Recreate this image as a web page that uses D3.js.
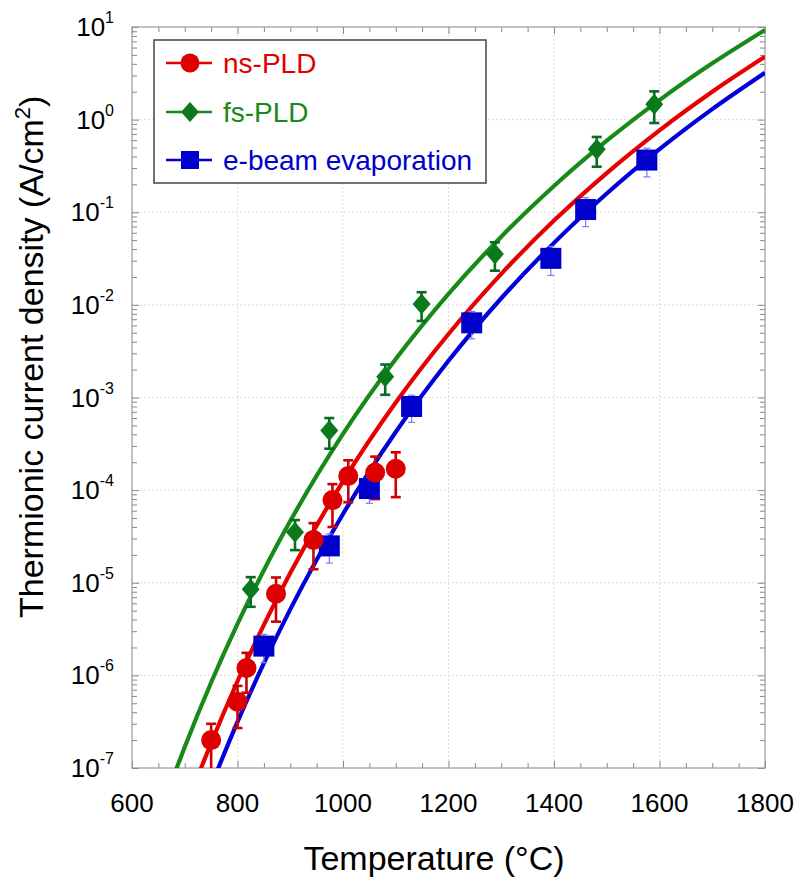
<!DOCTYPE html>
<html><head><meta charset="utf-8">
<script src="https://cdn.jsdelivr.net/npm/d3@7"></script>
<style>body{margin:0;background:#fff}svg{display:block;font-family:Arial,"Liberation Sans",sans-serif}</style>
</head><body><svg id="c" width="798" height="877"></svg>
<script>
// ---- measured data ----
const nsT   = [750, 800, 817, 873, 944, 980, 1010, 1061, 1100];
const nsJ   = [2.0e-7, 5.2e-7, 1.2e-6, 7.6e-6, 2.9e-5, 7.8e-5, 1.42e-4, 1.55e-4, 1.7e-4];
const nsErr = [1.0e-7, 2.5e-7, 5.5e-7, 3.8e-6, 1.5e-5, 3.8e-5, 6.8e-5, 7.5e-5, 8.6e-5];

const fsT   = [825, 909, 974, 1080, 1149, 1288, 1481, 1590];
const fsJ   = [8.5e-6, 3.5e-5, 4.4e-4, 1.67e-3, 1.02e-2, 0.0354, 0.48, 1.47];
const fsErr = [3.0e-6, 1.25e-5, 1.6e-4, 6e-4, 3.5e-3, 0.012, 0.17, 0.55];

const ebT   = [850, 974, 1050, 1130, 1244, 1394, 1460, 1576];
const ebJ   = [2.07e-6, 2.5e-5, 1.04e-4, 8.0e-4, 6.4e-3, 0.0318, 0.107, 0.366];
const ebErr = [7e-7, 8.7e-6, 3.2e-5, 2.6e-4, 2.1e-3, 0.011, 0.037, 0.125];

// ---- fitted curves ----
const fitGreenT = [680, 700, 750, 800, 850, 900, 1000, 1100, 1200, 1300, 1400, 1500, 1600, 1700, 1800];
const fitGreenJ = [8.5e-8, 1.69e-7, 8.38e-7, 3.60e-6, 1.365e-5, 4.63e-5, 4.04e-4, 2.60e-3, 0.01315, 0.0545, 0.1922, 0.592, 1.626, 4.05, 9.30];
const fitRedT   = [730, 750, 800, 850, 900, 1000, 1100, 1200, 1300, 1400, 1500, 1600, 1700, 1800];
const fitRedJ   = [9.7e-8, 1.86e-7, 8.64e-7, 3.51e-6, 1.272e-5, 1.243e-4, 8.82e-4, 4.85e-3, 0.02163, 0.0813, 0.265, 0.766, 2.00, 4.78];
const fitBlueT  = [760, 800, 850, 900, 1000, 1100, 1200, 1300, 1400, 1500, 1600, 1700, 1800];
const fitBlueJ  = [8.9e-8, 3.15e-7, 1.354e-6, 5.16e-6, 5.53e-5, 4.24e-4, 2.49e-3, 0.01179, 0.0467, 0.1593, 0.480, 1.299, 3.21];

const xTickLabels = [600, 800, 1000, 1200, 1400, 1600, 1800];
const yDecades = [-7, -6, -5, -4, -3, -2, -1, 0, 1];
const seriesNames = ["ns-PLD", "fs-PLD", "e-beam evaporation"];

// ---- layout ----
const L = 132, R = 765, T = 27, B = 768;
const svg = d3.select("#c");
const x = d3.scaleLinear().domain([600, 1800]).range([L, R]);
const y = d3.scaleLog().domain([1e-7, 10]).range([B, T]);

svg.append("defs").append("clipPath").attr("id", "clip")
  .append("rect").attr("x", L).attr("y", T).attr("width", R - L).attr("height", B - T);

// grid
const grid = svg.append("g").attr("stroke", "#dcdcdc").attr("stroke-width", 1).attr("stroke-dasharray", "2,2");
xTickLabels.slice(1, -1).forEach(v => grid.append("line").attr("x1", x(v)).attr("x2", x(v)).attr("y1", T).attr("y2", B));
yDecades.slice(1, -1).forEach(k => grid.append("line").attr("x1", L).attr("x2", R).attr("y1", y(Math.pow(10, k))).attr("y2", y(Math.pow(10, k))));

// axes with inward ticks
const xMinor = d3.range(600, 1801, 50).filter(v => v % 200 !== 0);
const yMajor = yDecades.map(k => Math.pow(10, k));
const yMinor = [];
yDecades.slice(0, -1).forEach(k => { for (let m = 2; m <= 9; m++) yMinor.push(m * Math.pow(10, k)); });

function styleAxis(g) { g.select(".domain").remove(); g.selectAll("line").attr("stroke", "#888"); g.selectAll("text").remove(); }
svg.append("g").attr("transform", `translate(0,${B})`).call(d3.axisBottom(x).tickValues(xTickLabels).tickSize(-7)).call(styleAxis);
svg.append("g").attr("transform", `translate(0,${B})`).call(d3.axisBottom(x).tickValues(xMinor).tickSize(-5)).call(styleAxis);
svg.append("g").attr("transform", `translate(0,${T})`).call(d3.axisTop(x).tickValues(xTickLabels).tickSize(-7)).call(styleAxis);
svg.append("g").attr("transform", `translate(0,${T})`).call(d3.axisTop(x).tickValues(xMinor).tickSize(-5)).call(styleAxis);
svg.append("g").attr("transform", `translate(${L},0)`).call(d3.axisLeft(y).tickValues(yMajor).tickSize(-7)).call(styleAxis);
svg.append("g").attr("transform", `translate(${L},0)`).call(d3.axisLeft(y).tickValues(yMinor).tickSize(-5)).call(styleAxis);
svg.append("g").attr("transform", `translate(${R},0)`).call(d3.axisRight(y).tickValues(yMajor).tickSize(-7)).call(styleAxis);
svg.append("g").attr("transform", `translate(${R},0)`).call(d3.axisRight(y).tickValues(yMinor).tickSize(-5)).call(styleAxis);

svg.append("rect").attr("x", L).attr("y", T).attr("width", R - L).attr("height", B - T)
  .attr("fill", "none").attr("stroke", "#999").attr("stroke-width", 1.2);

// tick labels
svg.append("g").selectAll("text").data(xTickLabels).join("text")
  .attr("x", d => x(d)).attr("y", 812).attr("text-anchor", "middle")
  .attr("font-size", 26).attr("fill", "#000").text(d => d);

const yl = svg.append("g").selectAll("text").data(yDecades).join("text")
  .attr("x", 114).attr("y", d => y(Math.pow(10, d)) + 9).attr("text-anchor", "end")
  .attr("font-size", 26).attr("fill", "#000");
yl.append("tspan").text("10");
yl.append("tspan").attr("font-size", 16).attr("dy", -13).text(d => d);

// titles
svg.append("text").attr("x", 434).attr("y", 870).attr("text-anchor", "middle")
  .attr("font-size", 34).attr("fill", "#000").text("Temperature (°C)");
const yt = svg.append("text").attr("transform", "translate(43,618) rotate(-90)")
  .attr("font-size", 34).attr("fill", "#000");
yt.append("tspan").text("Thermionic current density (A/cm");
yt.append("tspan").attr("font-size", 22).attr("dy", -13).text("2");
yt.append("tspan").attr("dy", 13).text(")");

// series
const colors = {
  red:   { line: "#e60000", mark: "#dd0000", err: "#cc0000", text: "#e00000" },
  green: { line: "#178a17", mark: "#0b7a1c", err: "#0a6a24", text: "#178a17" },
  blue:  { line: "#0000d8", mark: "#0000cc", err: "#7a7aff", text: "#0000cc" }
};
const plot = svg.append("g").attr("clip-path", "url(#clip)");
const line = d3.line().x(d => x(d[0])).y(d => y(d[1])).curve(d3.curveMonotoneX);
[[fitGreenT, fitGreenJ, colors.green], [fitRedT, fitRedJ, colors.red], [fitBlueT, fitBlueJ, colors.blue]].forEach(([ts, js, c]) => {
  plot.append("path").datum(ts.map((t, i) => [t, js[i]])).attr("d", line)
    .attr("fill", "none").attr("stroke", c.line).attr("stroke-width", 4.2);
});

function errBars(ts, js, es, c, w, cap) {
  const g = plot.append("g").attr("stroke", c).attr("stroke-width", w).attr("fill", "none");
  ts.forEach((t, i) => {
    const lo = Math.max(js[i] - es[i], 1e-9), hi = js[i] + es[i];
    const cx = x(t);
    g.append("line").attr("x1", cx).attr("x2", cx).attr("y1", y(lo)).attr("y2", y(hi));
    g.append("line").attr("x1", cx - cap).attr("x2", cx + cap).attr("y1", y(hi)).attr("y2", y(hi));
    if (js[i] - es[i] > 1e-7) g.append("line").attr("x1", cx - cap).attr("x2", cx + cap).attr("y1", y(lo)).attr("y2", y(lo));
  });
}
errBars(ebT, ebJ, ebErr, colors.blue.err, 1.2, 3.5);
errBars(nsT, nsJ, nsErr, colors.red.err, 2.6, 5);
errBars(fsT, fsJ, fsErr, colors.green.err, 2.6, 5);

const diamond = (cx, cy, hw, hh) => `M${cx},${cy - hh}L${cx + hw},${cy}L${cx},${cy + hh}L${cx - hw},${cy}Z`;
plot.append("g").selectAll("rect").data(ebT.map((t, i) => [t, ebJ[i]])).join("rect")
  .attr("x", d => x(d[0]) - 10.5).attr("y", d => y(d[1]) - 10.5).attr("width", 21).attr("height", 21)
  .attr("fill", colors.blue.mark);
plot.append("g").selectAll("circle").data(nsT.map((t, i) => [t, nsJ[i]])).join("circle")
  .attr("cx", d => x(d[0])).attr("cy", d => y(d[1])).attr("r", 10).attr("fill", colors.red.mark);
plot.append("g").selectAll("path").data(fsT.map((t, i) => [t, fsJ[i]])).join("path")
  .attr("d", d => diamond(x(d[0]), y(d[1]), 9, 10.5)).attr("fill", colors.green.mark);

// legend
const lg = svg.append("g");
lg.append("rect").attr("x", 154).attr("y", 40).attr("width", 332).attr("height", 143)
  .attr("fill", "#fff").attr("stroke", "#444").attr("stroke-width", 1.5);
const rows = [63, 112, 160];
const lc = [colors.red, colors.green, colors.blue];
seriesNames.forEach((name, i) => {
  const ry = rows[i], c = lc[i];
  lg.append("line").attr("x1", 166).attr("x2", 212).attr("y1", ry).attr("y2", ry)
    .attr("stroke", c.line).attr("stroke-width", 2.5);
  if (i === 0) lg.append("circle").attr("cx", 190).attr("cy", ry).attr("r", 9.5).attr("fill", c.mark);
  if (i === 1) lg.append("path").attr("d", diamond(190, ry, 9, 10)).attr("fill", c.mark);
  if (i === 2) lg.append("rect").attr("x", 181).attr("y", ry - 9).attr("width", 18).attr("height", 18).attr("fill", c.mark);
  lg.append("text").attr("x", 223).attr("y", ry + 10).attr("font-size", 28).attr("fill", c.text).text(name);
});
</script></body></html>
